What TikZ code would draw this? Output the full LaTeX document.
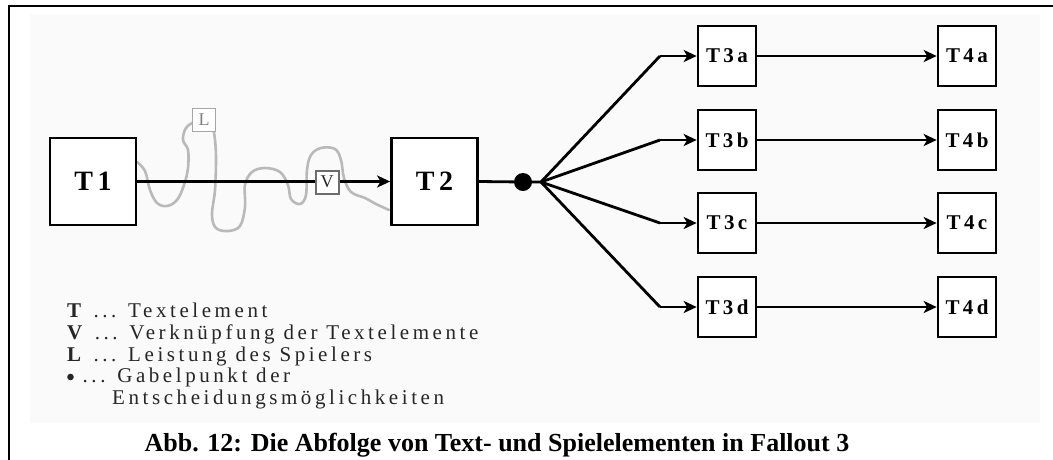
\documentclass[tikz,border=0pt]{standalone}
\usepackage{fontspec}
\setmainfont{Liberation Serif}
\newfontfamily\spaced[LetterSpace=16]{Liberation Serif}
\newfontfamily\legendfont[LetterSpace=17]{Liberation Serif}
\usetikzlibrary{arrows.meta}
\definecolor{wave}{HTML}{B9B9B9}
\definecolor{legendgray}{HTML}{262626}
\definecolor{panel}{HTML}{FAFAFA}
\tikzset{
  bigbox/.style={draw, line width=2.8pt, minimum width=86pt, minimum height=87pt,
    inner sep=0pt, fill=white, font=\spaced\bfseries\fontsize{28}{28}\selectfont},
  smallbox/.style={draw, line width=2.6pt, minimum width=58pt, minimum height=60pt,
    inner sep=0pt, fill=white, font=\spaced\bfseries\fontsize{21}{21}\selectfont},
  tag/.style={draw, fill=white, minimum width=23pt, minimum height=23pt, inner sep=0pt,
    font=\fontsize{18}{18}\selectfont},
  flow/.style={line width=2.8pt, -{Stealth[length=13pt,width=12pt,inset=3.5pt]}},
  plain/.style={line width=2.8pt},
  legend/.style={anchor=base west, inner sep=0pt, text=legendgray,
    font=\legendfont\fontsize{21}{21}\selectfont}
}
\begin{document}
\begin{tikzpicture}[x=1pt, y=-1pt]
\path[use as bounding box] (0,0) rectangle (1053,459);
% outer frame (left and top edges) and the light panel
\fill[panel] (30,14) rectangle (1040,423);
\draw[line width=2.6pt] (9,460) -- (9,6) -- (1054,6);

% player's performance: the winding grey path
\draw[wave, line width=2.6pt, line cap=round]
  plot[smooth, tension=0.6] coordinates {
  (137,162) (145,171) (150,190) (157,203) (167,206) (177,200) (184,185)
  (188,168) (188,150) (183,140) (186,128) (196,121) (206,119) (212,124)
  (215,140) (216,160) (215,190) (212,215) (216,228) (228,231) (240,226)
  (245,207) (245,185) (252,172) (265,168) (280,172) (288,185) (291,199)
  (300,204) (306,195) (307,170) (311,155) (321,148) (335,149) (341,160)
  (344,178) (351,192) (365,198) (376,204) (389,210)};

% text elements
\node[bigbox] (t1) at (93,181.5) {T1};
\node[bigbox] (t2) at (434.5,181.5) {T2};

\foreach \r/\y in {a/56, b/140, c/223, d/307} {
  \node[smallbox] (t3\r) at (727,\y) {T3\r};
  \node[smallbox] (t4\r) at (967,\y) {T4\r};
}

% link T1 -> T2 with its marker
\draw[flow] (t1.east) -- (t2.west);
\node[tag, draw=gray!85!black, line width=2pt, text=black!85] (v) at (327,182) {V};
\node[tag, draw=gray!70, line width=1.6pt, text=gray] (l) at (204,120) {L};

% fork point and the branches
\fill (523,182) circle (9pt);
\coordinate (dot) at (523,182);
\coordinate (fork) at (541,182);
\draw[plain] (t2.east) -- (dot) -- (fork);
\foreach \r in {a,b,c,d} {
  \coordinate (bend\r) at (660,0 |- t3\r.west);
  \draw[plain, line join=round] (fork) -- (bend\r);
  \draw[flow] (bend\r) -- (t3\r.west);
  \draw[flow] (t3\r.east) -- (t4\r.west);
}

% legend
\node[legend] (lg1) at (67,317) {\textbf{T} ... Textelement};
\node[legend] (lg2) at (67,339) {\textbf{V} ... Verknüpfung der Textelemente};
\node[legend] (lg3) at (67,361) {\textbf{L} ... Leistung des Spielers};
\node[legend] (lg4) at (67,382) {\tikz[baseline]\fill (3.5pt,5pt) circle (3.3pt);\ ... Gabelpunkt der};
\node[legend] (lg5) at (112,404) {Entscheidungsmöglichkeiten};

% caption
\node[anchor=base, inner sep=0pt, font=\bfseries\fontsize{26}{26}\selectfont] (cap) at (497,451)
  {Abb. 12: Die Abfolge von Text- und Spielelementen in Fallout 3};
\end{tikzpicture}
\end{document}
